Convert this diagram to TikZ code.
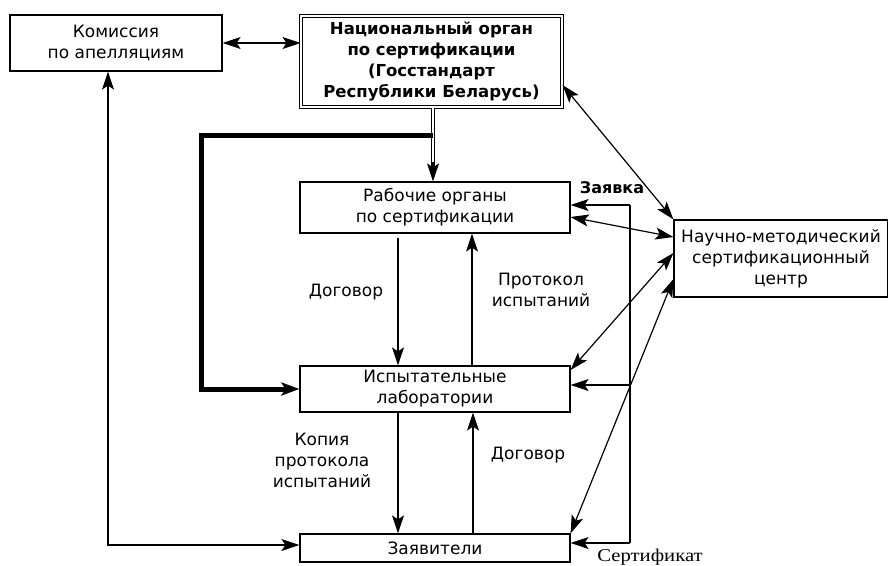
\documentclass[tikz,border=0pt]{standalone}
\usepackage{fontspec}
\setmainfont{DejaVu Sans}
\newfontfamily\serifcyr[FakeStretch=1.15]{Liberation Serif}
\usetikzlibrary{arrows.meta}
\begin{document}
\begin{tikzpicture}[x=1pt,y=-1pt,
  txt/.style={font=\fontsize{17}{21}\selectfont},
  box/.style={draw, line width=1.2pt, inner sep=0pt, align=center, txt},
  tip/.tip={Stealth[length=18pt,width=12pt,inset=4pt]},
  arr/.style={-tip, line width=1.2pt},
  darr/.style={tip-tip, line width=1.2pt},
  lbl/.style={align=center, inner sep=0pt, txt}]
\useasboundingbox (0,0) rectangle (888,565);
% boxes
\node[box, minimum width=212pt, minimum height=56pt] (kom) at (116,43) {Комиссия\\по апелляциям};
\node[box, double, double distance=2pt, line width=1pt, minimum width=261pt, minimum height=91pt, font=\bfseries\fontsize{16.5}{21}\selectfont] (nat) at (431.5,61.5) {Национальный орган\\по сертификации\\(Госстандарт\\Республики Беларусь)};
\node[box, minimum width=270pt, minimum height=51pt] (rab) at (435,207.5) {Рабочие органы\\по сертификации};
\node[box, minimum width=270pt, minimum height=46pt] (isp) at (435,389) {Испытательные\\лаборатории};
\node[box, minimum width=270pt, minimum height=28pt] (zay) at (435,548) {Заявители};
\node[box, minimum width=214pt, minimum height=77pt] (nau) at (781,258.5) {Научно-методический\\сертификационный\\центр};
% helper coordinates
\coordinate (j) at (433,135);
\coordinate (tc) at (201,135);
\coordinate (kb) at (108,545);
\coordinate (br1) at (630,205);
\coordinate (br2) at (630,385);
\coordinate (br3) at (630,543);
% connectors
\draw[darr] (kom.east) -- (nat.west |- kom.east);
\draw[darr] (kb |- kom.south) -- (kb) -- (zay.west |- kb);
\draw[double, double distance=2pt, line width=1pt] (nat.south -| j) -- (433,170);
\draw[arr] (433,162) -- (rab.north -| j);
\draw[line width=5pt, line join=miter, -{Stealth[length=18pt,width=13pt,inset=4pt]}] (j) -- (tc) |- (isp.west);
\draw[arr, shorten <=4pt] (rab.south -| 398,0) -- (isp.north -| 398,0);
\draw[arr] (isp.north -| 472,0) -- (rab.south -| 472,0);
\draw[arr] (isp.south -| 398,0) -- (zay.north -| 398,0);
\draw[arr] (zay.north -| 473,0) -- (isp.south -| 473,0);
\draw[line width=1.2pt] (br1) -- (br3);
\draw[arr] (br1) -- (rab.east |- br1);
\draw[arr] (br2) -- (isp.east |- br2);
\draw[arr] (br3) -- (zay.east |- br3);
\draw[darr] (nat.east |- 0,85) -- (nau.north west);
\draw[darr] (rab.east |- 0,217) -- (nau.west |- 0,237);
\draw[darr] (isp.east |- 0,370) -- (nau.west |- 0,253);
\draw[darr] (zay.north east) -- (nau.west |- 0,279);
% labels
\node[lbl] (l1) at (346,292) {Договор};
\node[lbl] (l2) at (541,290) {Протокол\\испытаний};
\node[lbl] (l3) at (322,460) {Копия\\протокола\\испытаний};
\node[lbl] (l4) at (528,455) {Договор};
\node[lbl, font=\bfseries\fontsize{16}{20}\selectfont] (l5) at (612,188) {Заявка};
\node[lbl, font=\serifcyr\fontsize{18}{20}\selectfont] (l6) at (650,557) {Сертификат};
\end{tikzpicture}
\end{document}
